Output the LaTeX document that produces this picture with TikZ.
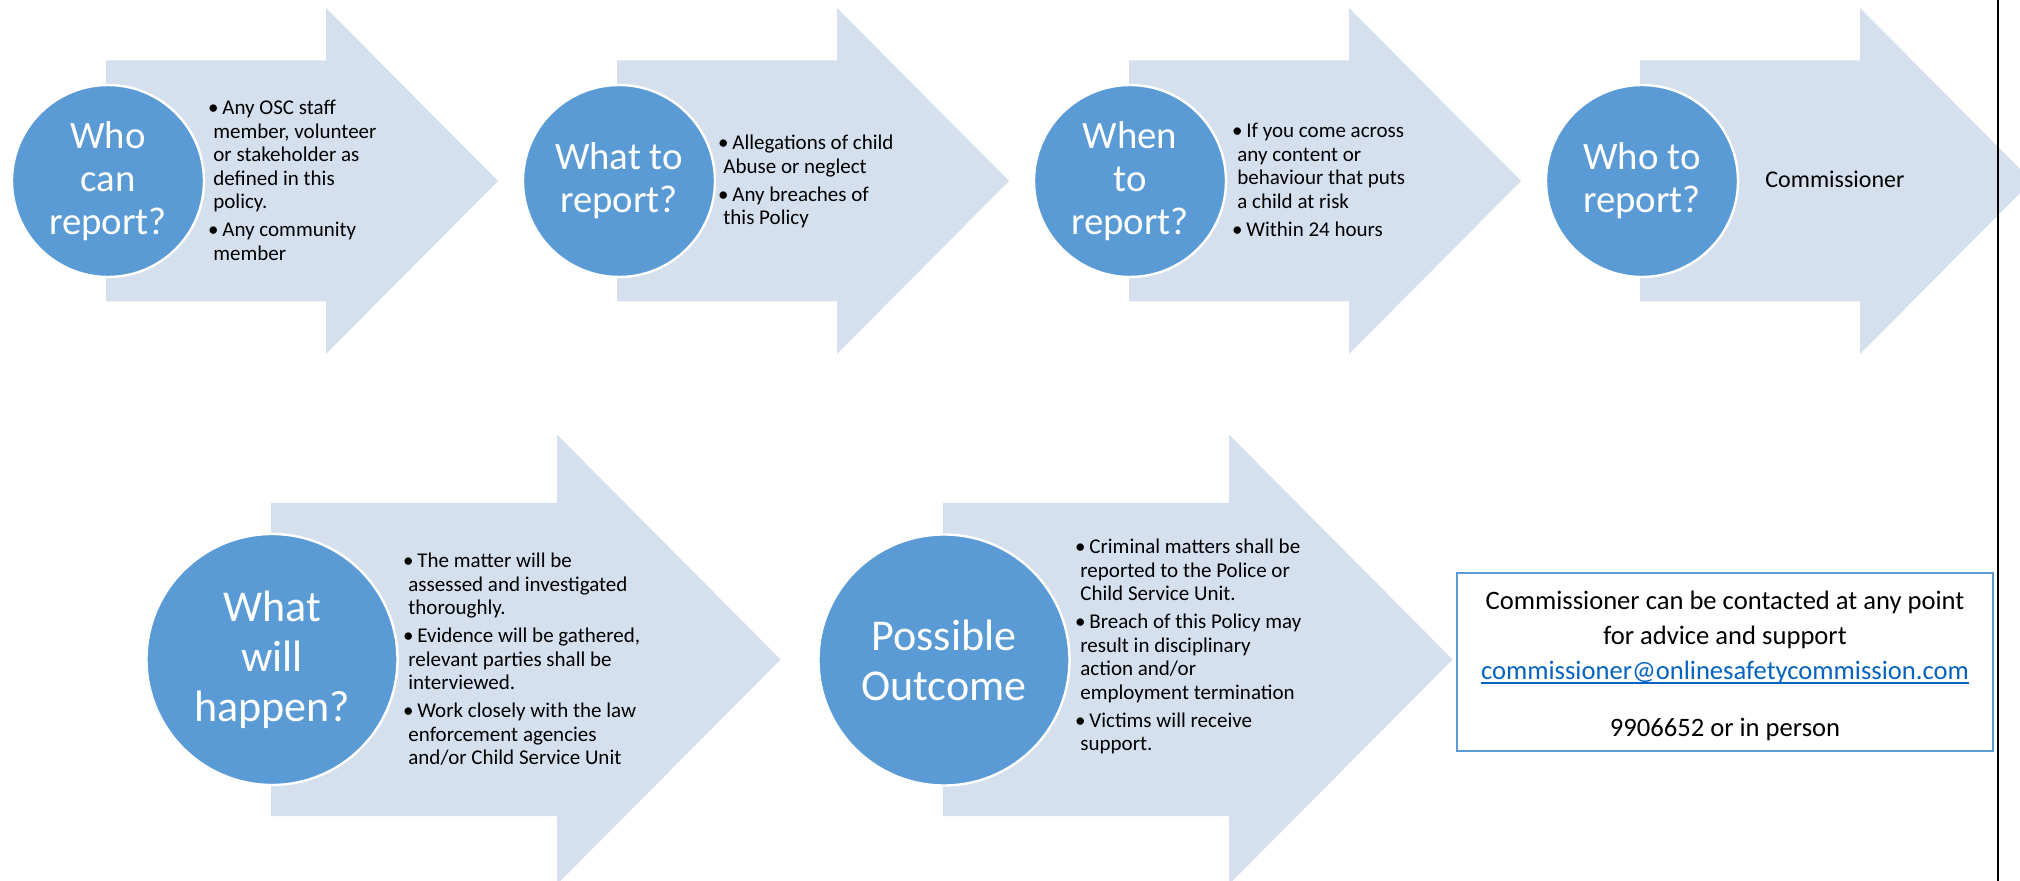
\documentclass[tikz,border=0pt]{standalone}
\usepackage{fontspec}
\setmainfont{Carlito}

\definecolor{arrowfill}{RGB}{213,224,239}
\definecolor{discblue}{RGB}{91,155,213}
\definecolor{linkblue}{RGB}{5,99,193}

% bullet lists: hanging indent, one paragraph per bullet
\newlength\bulind
\setlength\bulind{4.5pt}
\newcommand\bul{\par\hangindent=\bulind\hangafter=1\noindent\hbox to\bulind{\hskip-2.6pt\textbullet\hss}}
\newcommand\blist[1]{\vtop{\hsize=200pt\raggedright\parindent=0pt\parskip=2.25pt\fontsize{10.5}{11.75}\selectfont #1\par}}

% block arrow: #1 = left end of shaft, #2 = centre line, #3 = scale
\newcommand\flowarrow[3]{%
  \fill[arrowfill] (#1,#2-120.5*#3) -- (#1+220*#3,#2-120.5*#3)
    -- (#1+220*#3,#2-173*#3) -- (#1+392*#3,#2)
    -- (#1+220*#3,#2+173*#3) -- (#1+220*#3,#2+120.5*#3)
    -- (#1,#2+120.5*#3) -- cycle;}

\tikzset{
  disc/.style={circle, fill=discblue, draw=white, line width=1.2pt, inner sep=0pt},
  disctext/.style={text=white, align=center, inner sep=0pt, font=\fontsize{19.4}{21.5}\selectfont},
  disctextbig/.style={text=white, align=center, inner sep=0pt, font=\fontsize{22}{25}\selectfont},
  bullets/.style={anchor=base west, inner sep=0pt},
  contactline/.style={anchor=base, inner sep=0pt, font=\fontsize{13.3}{16}\selectfont},
}

\begin{document}
\begin{tikzpicture}[x=0.5pt,y=-0.5pt]
\useasboundingbox (0,0) rectangle (2020,881);
\clip (0,0) rectangle (2020,881);

% ---- first row ----
\flowarrow{106}{181}{1}
\flowarrow{617}{181}{1}
\flowarrow{1129}{181}{1}
\flowarrow{1640}{181}{1}

\node[disc, minimum size=96pt] (d1) at (108,181) {};
\node[disc, minimum size=96pt] (d2) at (619,181) {};
\node[disc, minimum size=96pt] (d3) at (1130,181) {};
\node[disc, minimum size=96pt] (d4) at (1642,181) {};

\node[disctext] (q1) at (d1) {Who\\can\\report?};
\node[disctext] (q2) at (d2) {What to\\report?};
\node[disctext] (q3) at (d3) {When\\to\\report?};
\node[disctext] (q4) at (d4) {Who to\\report?};

\node[bullets] (a1) at (213,115) {\blist{%
  \bul Any OSC staff\\member, volunteer\\or stakeholder as\\defined in this\\policy.
  \bul Any community\\member}};
\node[bullets] (a2) at (723,150) {\blist{%
  \bul Allegations of child\\Abuse or neglect
  \bul Any breaches of\\this Policy}};
\node[bullets] (a3) at (1237,138) {\blist{%
  \bul If you come across\\any content or\\behaviour that puts\\a child at risk
  \bul Within 24 hours}};
\node[anchor=base west, inner sep=0pt, font=\fontsize{12}{14}\selectfont] (a4) at (1765,188) {Commissioner};

% ---- second row ----
\flowarrow{271}{659.5}{1.3}
\flowarrow{943}{659.5}{1.3}

\node[disc, minimum size=125.5pt] (d5) at (272,659.5) {};
\node[disc, minimum size=125.5pt] (d6) at (944,660) {};

\node[disctextbig] (q5) at (d5) {What\\will\\happen?};
\node[disctextbig] (q6) at (d6) {Possible\\Outcome};

\node[bullets] (a5) at (408,568) {\blist{%
  \bul The matter will be\\assessed and investigated\\thoroughly.
  \bul Evidence will be gathered,\\relevant parties shall be\\interviewed.
  \bul Work closely with the law\\enforcement agencies\\and/or Child Service Unit}};
\node[bullets] (a6) at (1080,554) {\blist{%
  \bul Criminal matters shall be\\reported to the Police or\\Child Service Unit.
  \bul Breach of this Policy may\\result in disciplinary\\action and/or\\employment termination
  \bul Victims will receive\\support.}};

% ---- contact box ----
\node[draw=discblue, line width=1pt, fill=white, minimum width=268pt, minimum height=89pt, inner sep=0pt] (box) at (1725,662) {};
\node[contactline] (c1) at (1725,610) {Commissioner can be contacted at any point};
\node[contactline] (c2) at (1725,645) {for advice and support};
\node[contactline, text=linkblue] (c3) at (1725,680) {commissioner@onlinesafetycommission.com};
\draw[linkblue, line width=0.8pt] ([yshift=-1.6pt]c3.base west) -- ([yshift=-1.6pt]c3.base east);
\node[contactline] (c4) at (1725,737) {9906652 or in person};

% page edge rule
\draw[line width=1pt] (1998,0) -- (1998,881);
\end{tikzpicture}
\end{document}
